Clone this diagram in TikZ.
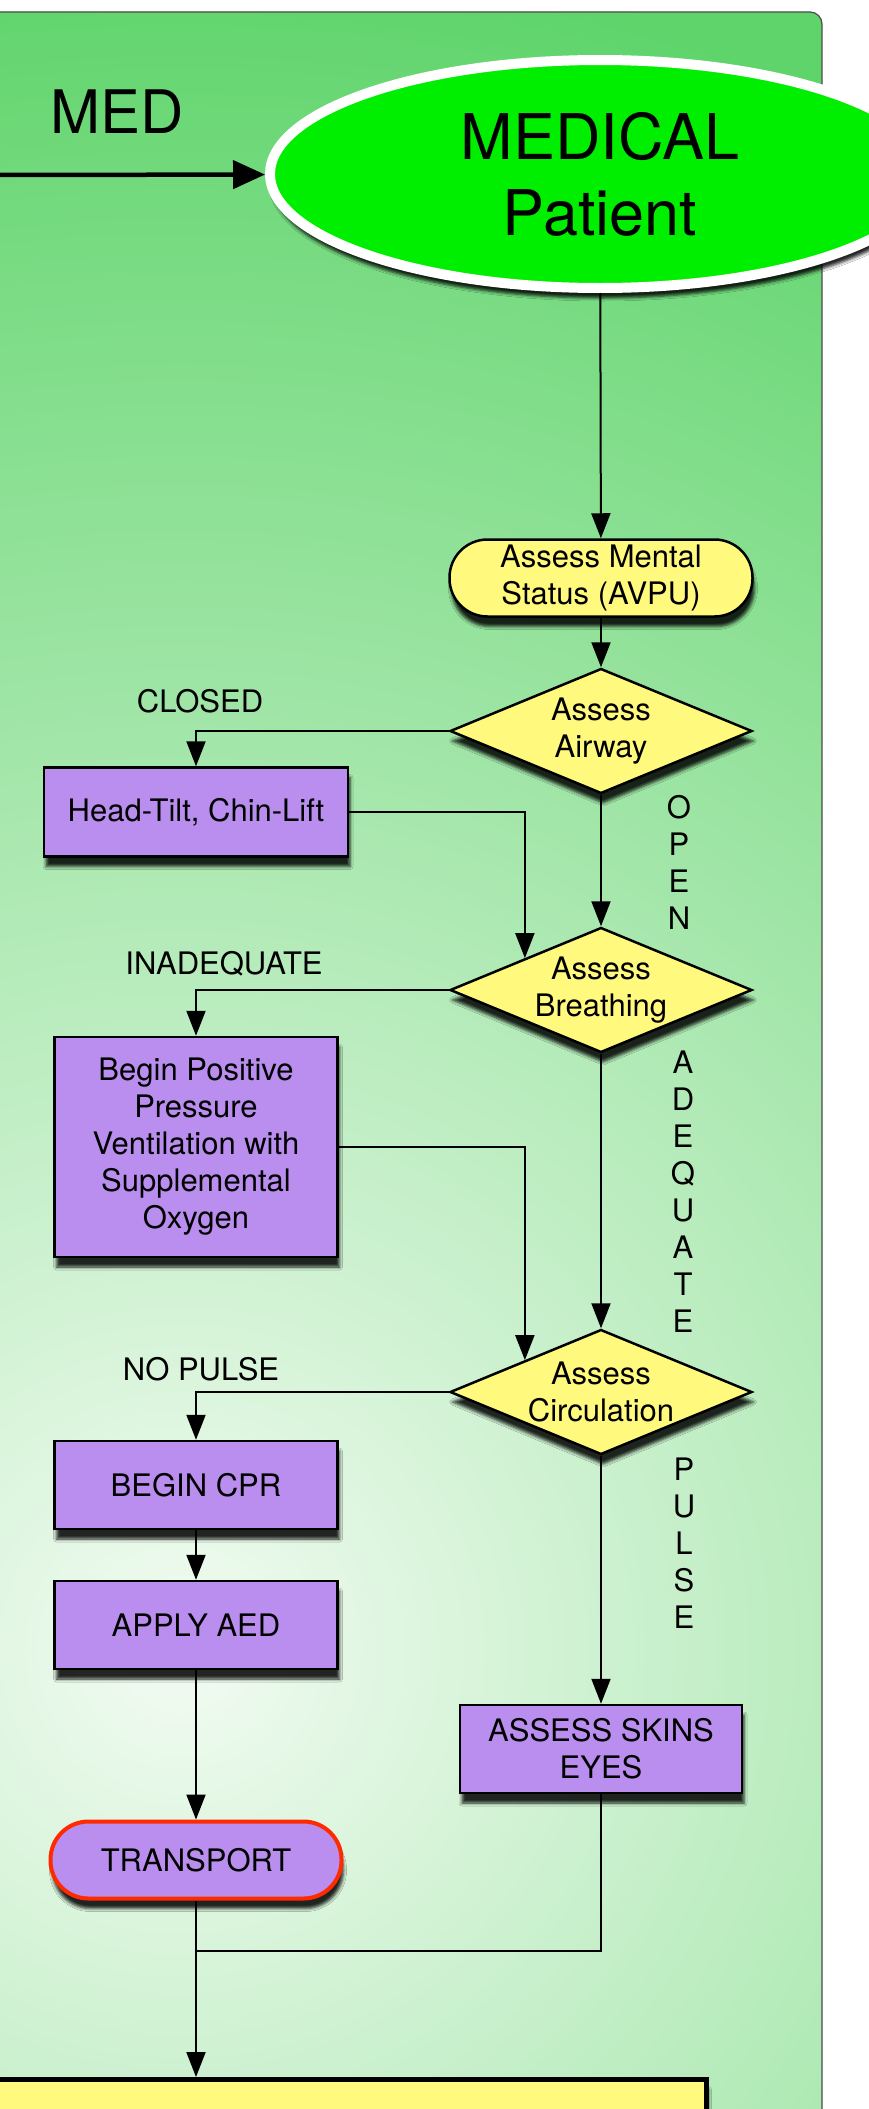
\documentclass[tikz,border=0pt]{standalone}
\usepackage{fontspec}
\setmainfont{TeX Gyre Heros}
\usetikzlibrary{arrows.meta,shapes.geometric,shadows.blur}
\definecolor{panelgreen}{HTML}{5ED46A}
\definecolor{panellight}{HTML}{F2FBF2}
\definecolor{boxyellow}{HTML}{FFFA7D}
\definecolor{boxpurple}{HTML}{B98EEE}
\definecolor{ovalgreen}{HTML}{00EE00}
\definecolor{stopred}{HTML}{FF2A00}

\begin{document}
\begin{tikzpicture}[x=1pt,y=-1pt,
    font=\fontsize{31}{37}\selectfont,
    boxshadow/.style={blur shadow={shadow xshift=2pt,shadow yshift=-10pt,shadow blur radius=3pt,shadow opacity=85}},
    procbox/.style={draw,line width=2.5pt,fill=boxpurple,align=center,inner sep=0pt,minimum height=88pt,boxshadow},
    termbox/.style={procbox,fill=boxyellow,rounded corners=38pt,minimum height=77pt},
    decision/.style={diamond,draw,line width=2.5pt,fill=boxyellow,align=center,aspect=2.4,inner sep=0pt,minimum width=302pt,minimum height=125pt,boxshadow},
    conn/.style={line width=2pt,-{Triangle[length=25pt,width=19pt]}},
    plainconn/.style={line width=2pt},
    tag/.style={inner sep=0pt},
    vtag/.style={align=center,inner sep=0pt}]
            \useasboundingbox (0,0) rectangle (869,2109);
            \clip (0,0) rectangle (869,2109);
            % panel
            \fill[white] (0,0) rectangle (869,2109);
            \fill[panelgreen,rounded corners=12pt] (-20,12) rectangle (822,2140);
            \begin{scope}
                \clip[rounded corners=12pt] (-20,12) rectangle (822,2140);
                \shade[inner color=panellight,outer color=panelgreen] (180,1650) circle (1700);
            \end{scope}
            \draw[rounded corners=12pt,draw=black!70,line width=1.2pt] (-20,12) rectangle (822,2140);
            % nodes
            \node[font=\fontsize{60}{72}\selectfont,inner sep=0pt] (medlbl) at (117,112) {MED};
            \node[ellipse,draw=white,line width=10pt,fill=ovalgreen,minimum width=660pt,minimum height=228pt,inner sep=0pt,align=center,font=\fontsize{63}{76}\selectfont,boxshadow] (medical) at (600,174) {MEDICAL\\Patient};
            \node[termbox,minimum width=303pt] (mental) at (601,578) {Assess Mental\\Status (AVPU)};
            \node[decision] (airway) at (601,731) {Assess\\Airway};
            \node[procbox,minimum width=304pt,minimum height=89pt] (headtilt) at (196,812) {Head-Tilt, Chin-Lift};
            \node[decision] (breathing) at (601,990) {Assess\\Breathing};
            \node[procbox,minimum width=283pt,minimum height=220pt] (ppv) at (196,1147) {Begin Positive\\Pressure\\Ventilation with\\Supplemental\\Oxygen};
            \node[decision] (circulation) at (601,1392) {Assess\\Circulation};
            \node[procbox,minimum width=283pt] (cpr) at (196,1485) {BEGIN CPR};
            \node[procbox,minimum width=283pt] (aed) at (196,1625) {APPLY AED};
            \node[termbox,fill=boxpurple,draw=stopred,line width=4pt,minimum width=291pt] (transport) at (196,1860) {TRANSPORT};
            \node[procbox,minimum width=282pt] (skins) at (601,1749) {ASSESS SKINS\\EYES};
            \node[procbox,fill=boxyellow,line width=5pt,anchor=north west,minimum width=714pt,minimum height=120pt] (handoff) at (-10,2077) {};
            % labels
            \node[tag] (closedlbl) at (200,701) {CLOSED};
            \node[tag] (inadlbl) at (224,964) {INADEQUATE};
            \node[tag] (nopulselbl) at (201,1369) {NO PULSE};
            \node[vtag] (openlbl) at (679,862) {O\\P\\E\\N};
            \node[vtag] (adequatelbl) at (683,1192) {A\\D\\E\\Q\\U\\A\\T\\E};
            \node[vtag] (pulselbl) at (684,1543) {P\\U\\L\\S\\E};
            \coordinate (medin) at (-5,175);
            \coordinate (join) at (196,1951);
            % connectors
            \draw[line width=4.5pt,-{Triangle[length=32pt,width=28pt]}] (medin) -- (medical);
            \draw[conn] (medical) -- (mental);
            \draw[conn] (mental) -- (airway);
            \draw[conn] (airway.west) -| (headtilt.north);
            \draw[conn] (airway) -- (breathing);
            \draw[conn] (headtilt.east) -| (breathing.north west);
            \draw[conn] (breathing.west) -| (ppv.north);
            \draw[conn] (breathing) -- (circulation);
            \draw[conn] (ppv.east) -| (circulation.north west);
            \draw[conn] (circulation.west) -| (cpr.north);
            \draw[conn] (cpr) -- (aed);
            \draw[conn] (aed) -- (transport);
            \draw[conn] (circulation) -- (skins);
            \draw[plainconn] (skins) |- (join);
            \draw[conn] (transport) -- (transport |- handoff.north);
        \end{tikzpicture}
\end{document}
